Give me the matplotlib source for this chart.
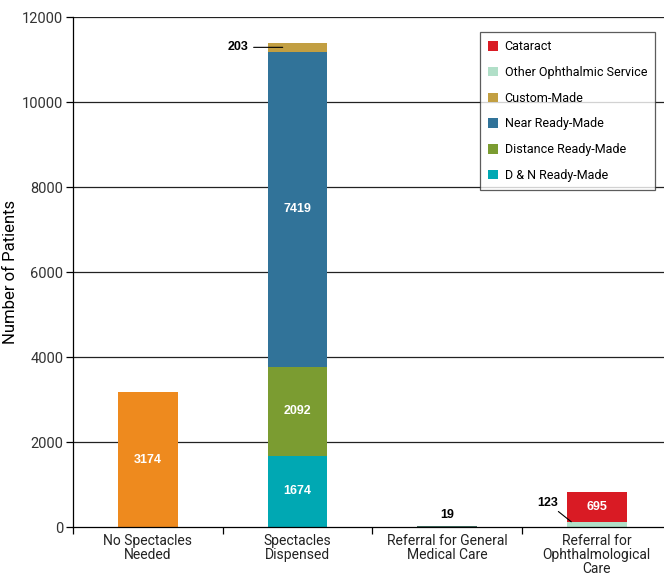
import numpy as np
import matplotlib.pyplot as plt

categories = ['No Spectacles\nNeeded', 'Spectacles\nDispensed',
              'Referral for General\nMedical Care', 'Referral for\nOphthalmological\nCare']

# series values per category (stacked bottom -> top)
no_spec = [3174, 0, 0, 0]
dn_ready = [0, 1674, 0, 0]
dist_ready = [0, 2092, 0, 0]
near_ready = [0, 7419, 0, 0]
custom = [0, 203, 0, 0]
general = [0, 0, 19, 0]
other_oph = [0, 0, 0, 123]
cataract = [0, 0, 0, 695]

plt.rcParams['font.family'] = ['Roboto', 'DejaVu Sans']

fig = plt.figure(figsize=(6.64, 5.79), dpi=100)
ax = fig.add_axes([0.110, 0.0898, 0.890, 0.8808])

x = np.arange(len(categories))
w = 0.4

for y in range(2000, 12001, 2000):
    ax.axhline(y, color='#222222', lw=0.9, zorder=0)

ax.bar(x, no_spec, w, color='#ee8a1e')
ax.bar(x, dn_ready, w, color='#00a8b3', label='D & N Ready-Made')
bot = np.array(dn_ready)
ax.bar(x, dist_ready, w, bottom=bot, color='#7b9c31', label='Distance Ready-Made')
bot = bot + dist_ready
ax.bar(x, near_ready, w, bottom=bot, color='#317399', label='Near Ready-Made')
bot = bot + near_ready
ax.bar(x, custom, w, bottom=bot, color='#c29f42', label='Custom-Made')
ax.bar(x, general, w, color='#3f6b5e')
ax.bar(x, other_oph, w, color='#b1dfc8', label='Other Ophthalmic Service')
ax.bar(x, cataract, w, bottom=other_oph, color='#d91b24', label='Cataract')

lab = dict(color='white', fontweight='bold', fontsize=9, ha='center', va='center',
           family='Liberation Sans')
ax.text(0, no_spec[0] / 2, str(no_spec[0]), **lab)
ax.text(1, dn_ready[1] / 2, str(dn_ready[1]), **lab)
ax.text(1, dn_ready[1] + dist_ready[1] / 2, str(dist_ready[1]), **lab)
ax.text(1, dn_ready[1] + dist_ready[1] + near_ready[1] / 2, str(near_ready[1]), **lab)
ax.text(3, other_oph[3] + cataract[3] / 2, str(cataract[3]), **lab)

blk = dict(color='black', fontweight='bold', fontsize=9, family='Liberation Sans')
ax.text(2, general[2] + 120, str(general[2]), ha='center', va='bottom', **blk)
top = dn_ready[1] + dist_ready[1] + near_ready[1] + custom[1] / 2
ax.annotate(str(custom[1]), xy=(0.92, top), xytext=(0.67, top), ha='right', va='center',
            arrowprops=dict(arrowstyle='-', color='black', lw=0.8), **blk)
ax.annotate(str(other_oph[3]), xy=(2.83, other_oph[3]), xytext=(2.74, 430), ha='right',
            va='bottom', arrowprops=dict(arrowstyle='-', color='black', lw=0.8,
                                         shrinkA=0, shrinkB=0), **blk)

ax.set_xlim(-0.5, 3.45)
ax.set_ylim(0, 12000)
ax.set_yticks(range(0, 12001, 2000))
ax.tick_params(axis='y', labelsize=10.5, labelcolor='#333333', length=5, width=0.9, pad=2)
ax.set_xticks(x)
ax.set_xticklabels(categories, fontsize=10, color='#222222', linespacing=1.0)
ax.tick_params(axis='x', length=0, pad=5)
ax.set_xticks([-0.5, 0.5, 1.5, 2.5], minor=True)
ax.tick_params(axis='x', which='minor', length=5, width=0.9)
ax.set_ylabel('Number of Patients', fontsize=12)
ax.yaxis.set_label_coords(-0.093, 0.5)

for s in ['top', 'right']:
    ax.spines[s].set_visible(False)
ax.spines['left'].set_linewidth(0.9)
ax.spines['bottom'].set_linewidth(0.9)

h, l = ax.get_legend_handles_labels()
leg = ax.legend(h[::-1], l[::-1], loc='upper right', bbox_to_anchor=(0.985, 0.9706),
                borderaxespad=0, fontsize=9, frameon=True, fancybox=False,
                edgecolor='#333333', handlelength=0.8, handleheight=0.8,
                labelspacing=1.02, borderpad=0.65, handletextpad=0.5)
leg.get_frame().set_linewidth(0.9)

fig.savefig('out.png', dpi=100)
